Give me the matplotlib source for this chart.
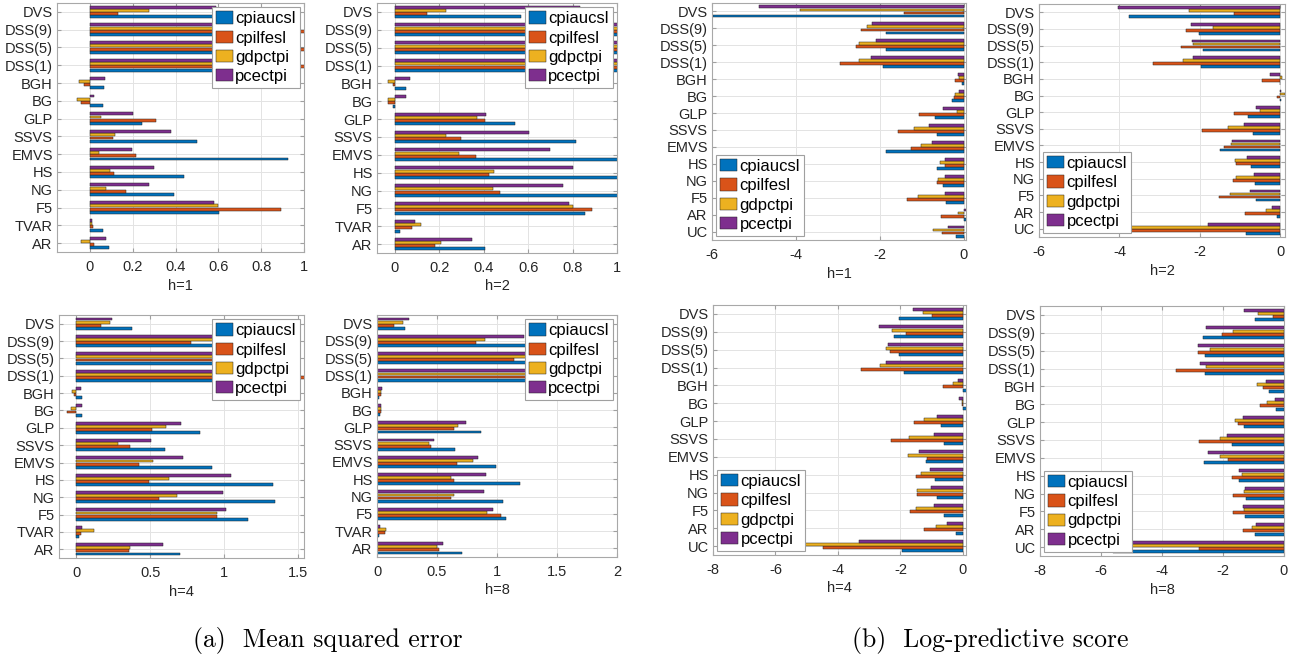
import numpy as np
import matplotlib
matplotlib.use("Agg")
import matplotlib.pyplot as plt
from matplotlib.ticker import FuncFormatter

plt.rcParams['font.family'] = ['Liberation Sans', 'DejaVu Sans']

# series names and MATLAB default colours
series = ['cpiaucsl', 'cpilfesl', 'gdpctpi', 'pcectpi']
colors = ['#0072BD', '#D95319', '#EDB120', '#7E2F8E']

# categories, listed top -> bottom
mse_models = ['DVS', 'DSS(9)', 'DSS(5)', 'DSS(1)', 'BGH', 'BG', 'GLP', 'SSVS',
              'EMVS', 'HS', 'NG', 'F5', 'TVAR', 'AR']
lps_models = ['DVS', 'DSS(9)', 'DSS(5)', 'DSS(1)', 'BGH', 'BG', 'GLP', 'SSVS',
              'EMVS', 'HS', 'NG', 'F5', 'AR', 'UC']

# Mean squared error (rows: cpiaucsl, cpilfesl, gdpctpi, pcectpi)
mse_h1 = [
    [0.75, 0.95, 0.95, 0.95, 0.065, 0.06, 0.245, 0.50, 0.925, 0.438, 0.394, 0.603, 0.062, 0.09],
    [0.13, 1.2, 1.2, 1.2, -0.028, -0.042, 0.307, 0.107, 0.213, 0.11, 0.167, 0.891, 0.016, 0.02],
    [0.276, 0.95, 0.95, 0.95, -0.05, -0.06, 0.05, 0.117, 0.044, 0.095, 0.073, 0.60, 0.011, -0.04],
    [0.59, 0.95, 0.95, 0.95, 0.07, 0.017, 0.20, 0.38, 0.196, 0.30, 0.277, 0.58, 0.011, 0.076],
]
mse_h2 = [
    [0.57, 1.2, 1.2, 1.2, 0.05, -0.008, 0.541, 0.817, 1.1, 1.1, 1.1, 0.855, 0.022, 0.408],
    [0.145, 1.2, 1.2, 1.2, -0.008, -0.03, 0.408, 0.30, 0.367, 0.424, 0.475, 0.889, 0.076, 0.18],
    [0.232, 1.2, 1.2, 1.2, -0.03, -0.03, 0.372, 0.232, 0.289, 0.448, 0.442, 0.802, 0.12, 0.207],
    [0.832, 1.2, 1.2, 1.2, 0.07, 0.05, 0.412, 0.604, 0.70, 0.80, 0.757, 0.784, 0.091, 0.349],
]
mse_h4 = [
    [0.379, 1.2, 1.2, 1.2, 0.038, 0.036, 0.835, 0.60, 0.921, 1.327, 1.341, 1.163, 0.02, 0.702],
    [0.169, 0.774, 1.2, 1.7, -0.018, -0.061, 0.515, 0.366, 0.424, 0.494, 0.562, 0.95, 0.032, 0.359],
    [0.228, 1.1, 1.1, 1.1, -0.03, -0.038, 0.609, 0.284, 0.521, 0.628, 0.682, 0.953, 0.122, 0.363],
    [0.242, 1.1, 1.1, 1.1, 0.032, 0.036, 0.709, 0.503, 0.725, 1.047, 0.995, 1.013, 0.036, 0.585],
]
mse_h8 = [
    [0.23, 1.5, 1.5, 1.5, 0.02, 0.025, 0.867, 0.651, 0.994, 1.191, 1.05, 1.075, 0.017, 0.706],
    [0.139, 0.826, 1.144, 1.5, 0.036, 0.033, 0.643, 0.454, 0.665, 0.645, 0.614, 1.033, 0.067, 0.517],
    [0.213, 0.90, 1.238, 1.5, 0.036, 0.033, 0.679, 0.432, 0.803, 0.615, 0.639, 0.917, 0.072, 0.50],
    [0.266, 1.227, 1.4, 1.5, 0.042, 0.036, 0.74, 0.474, 0.845, 0.909, 0.889, 0.969, 0.028, 0.55],
]

# Log-predictive score
lps_h1 = [
    [-5.98, -1.85, -1.86, -1.92, -0.05, -0.29, -0.70, -0.63, -1.85, -0.65, -0.49, -0.43, 0.05, -0.20],
    [-1.43, -2.45, -2.57, -2.96, -0.21, -0.23, -1.07, -1.58, -1.25, -0.46, -0.63, -1.35, -0.54, -0.51],
    [-3.91, -2.30, -2.51, -2.50, -0.11, -0.21, -0.16, -1.18, -1.03, -0.57, -0.61, -1.10, -0.15, -0.73],
    [-4.87, -2.19, -2.10, -2.21, -0.13, -0.11, -0.50, -0.84, -0.77, -0.46, -0.46, -0.46, 0.06, -0.39],
]
lps_h2 = [
    [-3.76, -2.01, -1.92, -1.98, -0.01, 0.02, -0.80, -0.68, -1.49, -0.72, -0.62, -0.60, -0.07, -0.85],
    [-1.14, -2.35, -2.47, -3.17, -0.46, -0.07, -1.14, -1.95, -1.41, -1.10, -1.18, -1.51, -0.87, -4.2],
    [-2.28, -1.68, -2.18, -2.41, 0.04, 0.12, -0.51, -1.29, -1.23, -1.12, -1.10, -1.26, -0.36, -4.2],
    [-4.04, -2.21, -2.20, -2.17, -0.25, 0.01, -0.60, -0.91, -1.19, -0.83, -0.64, -0.75, -0.21, -1.80],
]
lps_h4 = [
    [-2.03, -2.21, -2.03, -1.88, 0.13, 0.13, -0.69, -0.62, -1.17, -0.89, -0.82, -0.60, -0.21, -1.96],
    [-1.00, -1.83, -2.34, -3.25, -0.65, -0.03, -1.57, -2.29, -1.16, -1.49, -1.46, -1.69, -1.24, -4.49],
    [-1.29, -2.28, -2.46, -2.64, -0.32, -0.02, -1.24, -1.71, -1.76, -1.33, -1.46, -1.49, -0.86, -5.3],
    [-1.60, -2.69, -2.39, -2.45, -0.17, -0.12, -0.84, -0.93, -1.40, -1.05, -1.02, -0.94, -0.51, -3.32],
]
lps_h8 = [
    [-0.95, -2.64, -2.59, -2.59, -0.48, -0.26, -1.30, -1.72, -2.61, -1.49, -1.26, -1.27, -0.94, -5.6],
    [-0.35, -2.03, -2.81, -3.55, -0.68, -0.79, -1.50, -2.78, -1.84, -1.69, -1.68, -1.68, -1.33, -2.79],
    [-0.84, -1.68, -2.43, -2.57, -0.90, -0.57, -1.61, -2.10, -2.10, -1.37, -1.30, -1.30, -1.04, -5.3],
    [-1.30, -2.56, -2.81, -2.75, -0.59, -0.30, -1.33, -1.87, -2.50, -1.46, -1.27, -1.36, -0.93, -5.5],
]

W, H = 1293, 663
fig = plt.figure(figsize=(W / 100, H / 100), dpi=100)


def px_axes(left, top, right, bottom):
    return fig.add_axes([left / W, 1 - bottom / H, (right - left) / W, (bottom - top) / H])


def draw_panel(rect, models, data, xlim, xticks, label, legend_loc):
    ax = px_axes(*rect)
    n = len(models)
    ypos = n - np.arange(n)  # top category gets the largest y
    step = 0.18
    for k, (name, vals) in enumerate(zip(series, data)):
        ax.barh(ypos + (k - 1.5) * step, vals, height=step * 0.92, color=colors[k],
                edgecolor='#222222', linewidth=0.35, label=name, zorder=2)
    ax.set_ylim(0.5, n + 0.5)
    ax.set_xlim(*xlim)
    ax.set_yticks(ypos)
    ax.set_yticklabels(models)
    ax.set_xticks(xticks)
    ax.xaxis.set_major_formatter(FuncFormatter(lambda v, p: '%g' % v))
    ax.grid(True, color='#e3e3e3', linewidth=0.7)
    ax.set_axisbelow(True)
    ax.tick_params(direction='in', length=3, labelsize=10.5, colors='#262626',
                   top=True, right=True, pad=3)
    ax.tick_params(axis='x', color='#a0a0a0', pad=6)
    ax.tick_params(axis='y', color='#a0a0a0')
    for s in ax.spines.values():
        s.set_color('#a8a8a8')
        s.set_linewidth(0.8)
    ax.set_xlabel(label, fontsize=10.5, color='#262626', labelpad=3)
    leg = ax.legend(loc=legend_loc, fontsize=12, frameon=True, fancybox=False,
                    framealpha=1, edgecolor='#a0a0a0', handlelength=1.0,
                    handleheight=0.75, handletextpad=0.15, labelspacing=0.25,
                    borderpad=0.25, borderaxespad=0.25)
    leg.get_frame().set_linewidth(0.8)
    leg.set_zorder(5)
    return ax


draw_panel((57, 3, 304, 252), mse_models, mse_h1, (-0.154, 1.0),
           [0, 0.2, 0.4, 0.6, 0.8, 1.0], 'h=1', 'upper right')
draw_panel((377, 3, 617, 253), mse_models, mse_h2, (-0.08, 1.0),
           [0, 0.2, 0.4, 0.6, 0.8, 1.0], 'h=2', 'upper right')
draw_panel((59, 315, 304, 558), mse_models, mse_h4, (-0.117, 1.54),
           [0, 0.5, 1.0, 1.5], 'h=4', 'upper right')
draw_panel((377, 315, 617, 557), mse_models, mse_h8, (0, 2.0),
           [0, 0.5, 1.0, 1.5, 2.0], 'h=8', 'upper right')

draw_panel((712, 3, 966, 240), lps_models, lps_h1, (-6, 0.05),
           [-6, -4, -2, 0], 'h=1', 'lower left')
draw_panel((1039, 4, 1285, 237), lps_models, lps_h2, (-6, 0.12),
           [-6, -4, -2, 0], 'h=2', 'lower left')
draw_panel((713, 305, 966, 555), lps_models, lps_h4, (-8, 0.1),
           [-8, -6, -4, -2, 0], 'h=4', 'lower left')
draw_panel((1040, 306, 1284, 556), lps_models, lps_h8, (-8, 0),
           [-8, -6, -4, -2, 0], 'h=8', 'lower left')

fig.text(328 / W, 1 - 640 / H, '(a)  Mean squared error', ha='center', va='center',
         fontsize=18.5, family='cmr10')
fig.text(990 / W, 1 - 640 / H, '(b)  Log-predictive score', ha='center', va='center',
         fontsize=18.5, family='cmr10')

fig.savefig('out.png', dpi=100)
